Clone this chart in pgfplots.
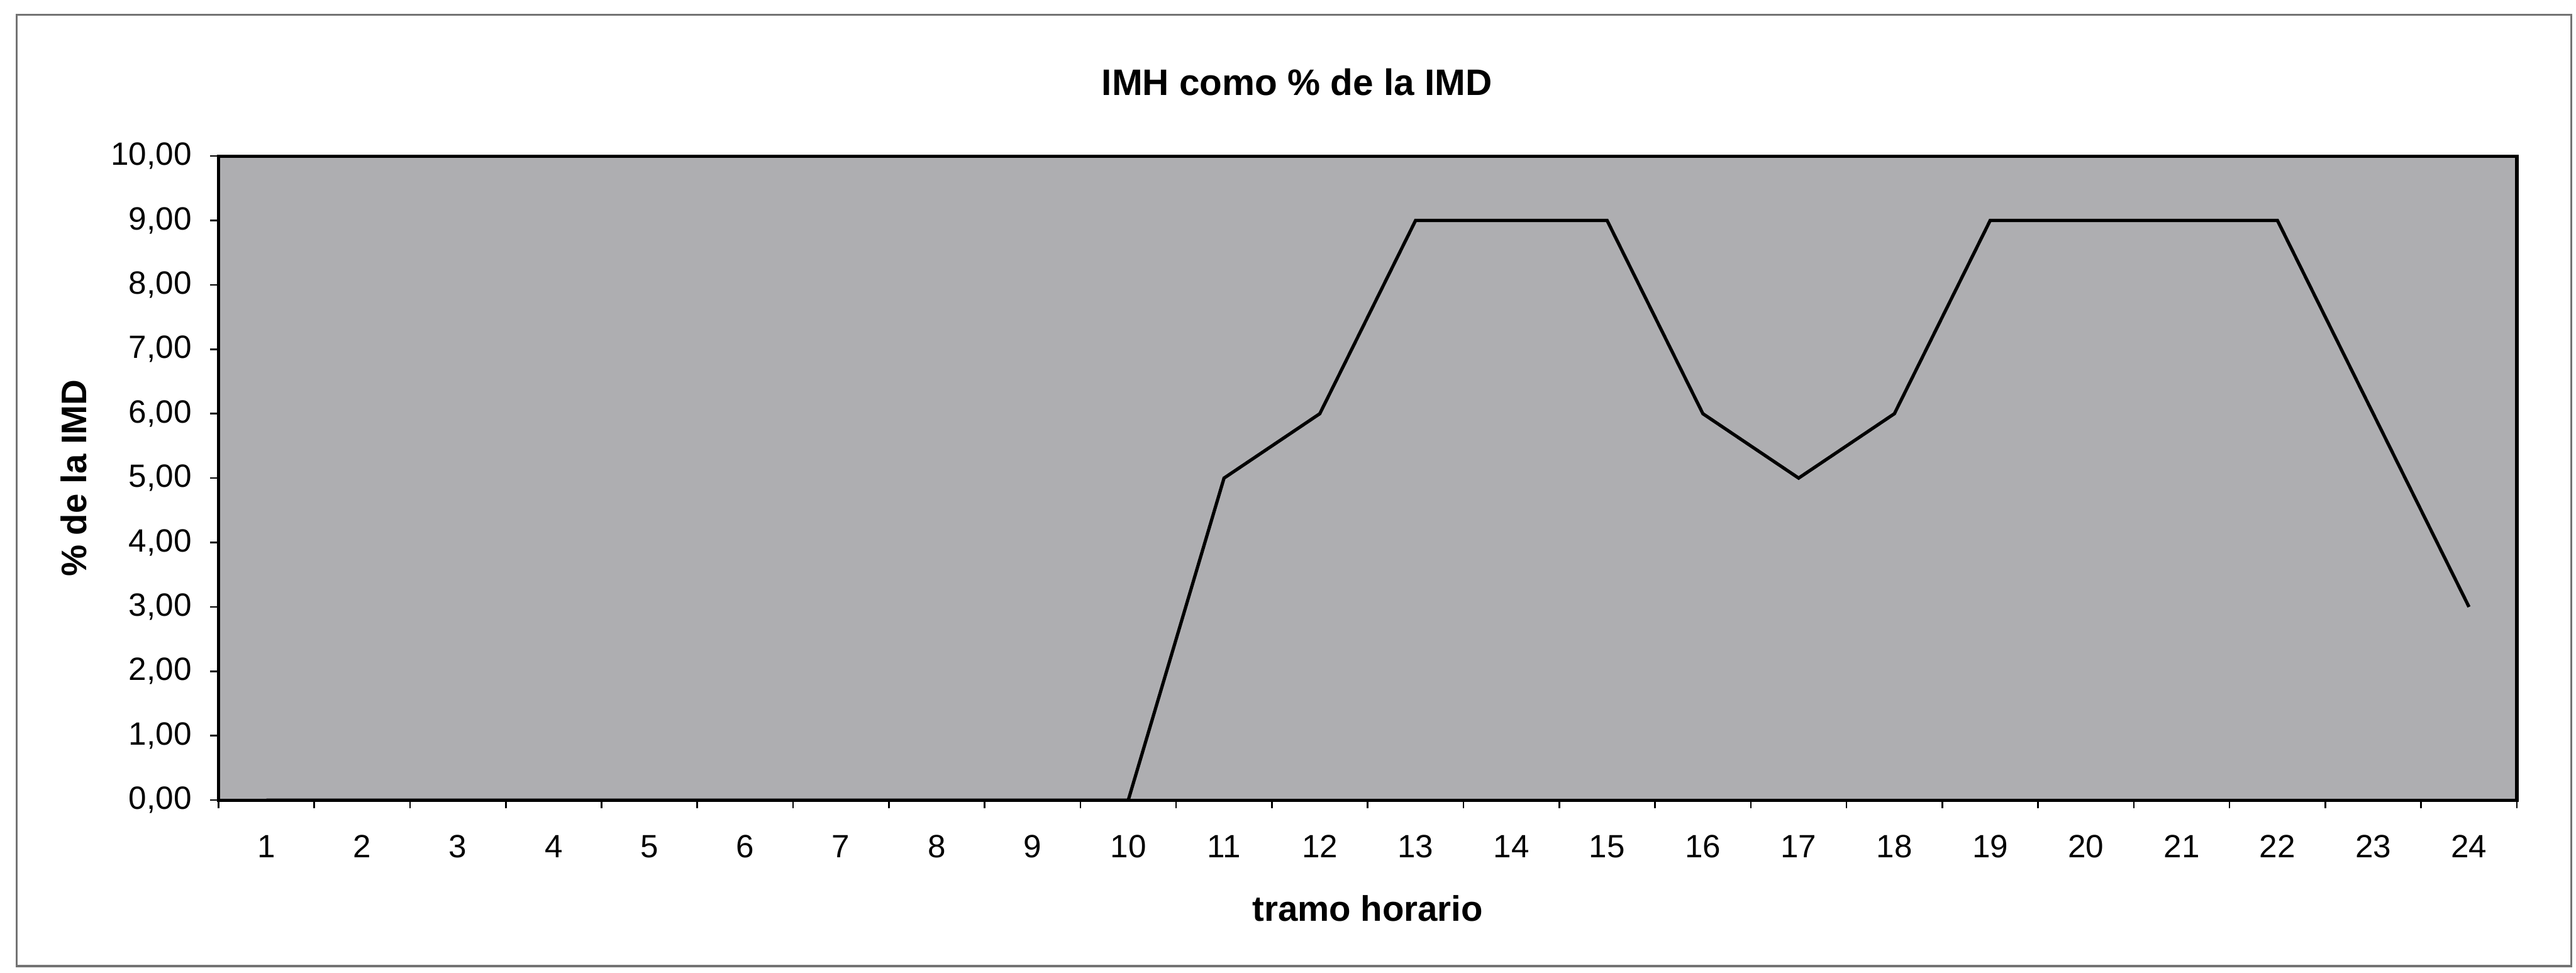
\documentclass[border=0pt]{standalone}
\usepackage{pgfplots}
\pgfplotsset{compat=1.18}
\usepackage{fontspec}
\setmainfont{Liberation Sans}
\definecolor{plotgray}{RGB}{174,174,177}
\begin{document}
\begin{tikzpicture}
\useasboundingbox (-66.5pt,-52.5pt) rectangle (717.5pt,243.5pt);
\draw[line width=0.6pt, black!55] (-61.5pt,-50.5pt) rectangle (716pt,239pt);
\begin{axis}[
  at={(0pt,0pt)}, anchor=south west,
  scale only axis, width=699.5pt, height=196pt,
  xmin=0.5, xmax=24.5, ymin=0, ymax=10,
  xtick={0.5,1.5,...,24.5},
  x tick label as interval,
  xticklabels={1,2,3,4,5,6,7,8,9,10,11,12,13,14,15,16,17,18,19,20,21,22,23,24},
  ytick={0,1,...,10},
  tick align=outside,
  major tick length=2.5pt,
  tick style={black, line width=0.5pt},
  xtick pos=bottom, ytick pos=left,
  axis line style={line width=1pt},
  axis background/.style={fill=plotgray},
  /pgf/number format/.cd, fixed, fixed zerofill, precision=2, use comma, assume math mode=true,
  /pgfplots/.cd,
  ticklabel style={font=\fontsize{9.8}{11}\selectfont},
  xticklabel style={anchor=base, yshift=-15pt},
  yticklabel style={anchor=east, inner sep=0pt, xshift=-5.5pt},
  xlabel={\textbf{tramo horario}},
  ylabel={\textbf{\% de la IMD}},
  label style={font=\fontsize{10.8}{12}\selectfont},
  xlabel style={at={([yshift=-33pt]axis description cs:0.5,0)}, anchor=center},
  ylabel style={at={([xshift=-44pt]axis description cs:0,0.5)}, anchor=center},
  clip=false,
]
\addplot[black, line width=1pt, mark=none] coordinates {
  (1,0) (2,0) (3,0) (4,0) (5,0) (6,0) (7,0) (8,0) (9,0) (10,0)
  (11,5) (12,6) (13,9) (14,9) (15,9) (16,6) (17,5) (18,6)
  (19,9) (20,9) (21,9) (22,9) (23,6) (24,3)
};
\end{axis}
\node[font=\fontsize{11.2}{13}\selectfont\bfseries] at (328.25pt,218.5pt) {IMH como \% de la IMD};
\end{tikzpicture}
\end{document}
